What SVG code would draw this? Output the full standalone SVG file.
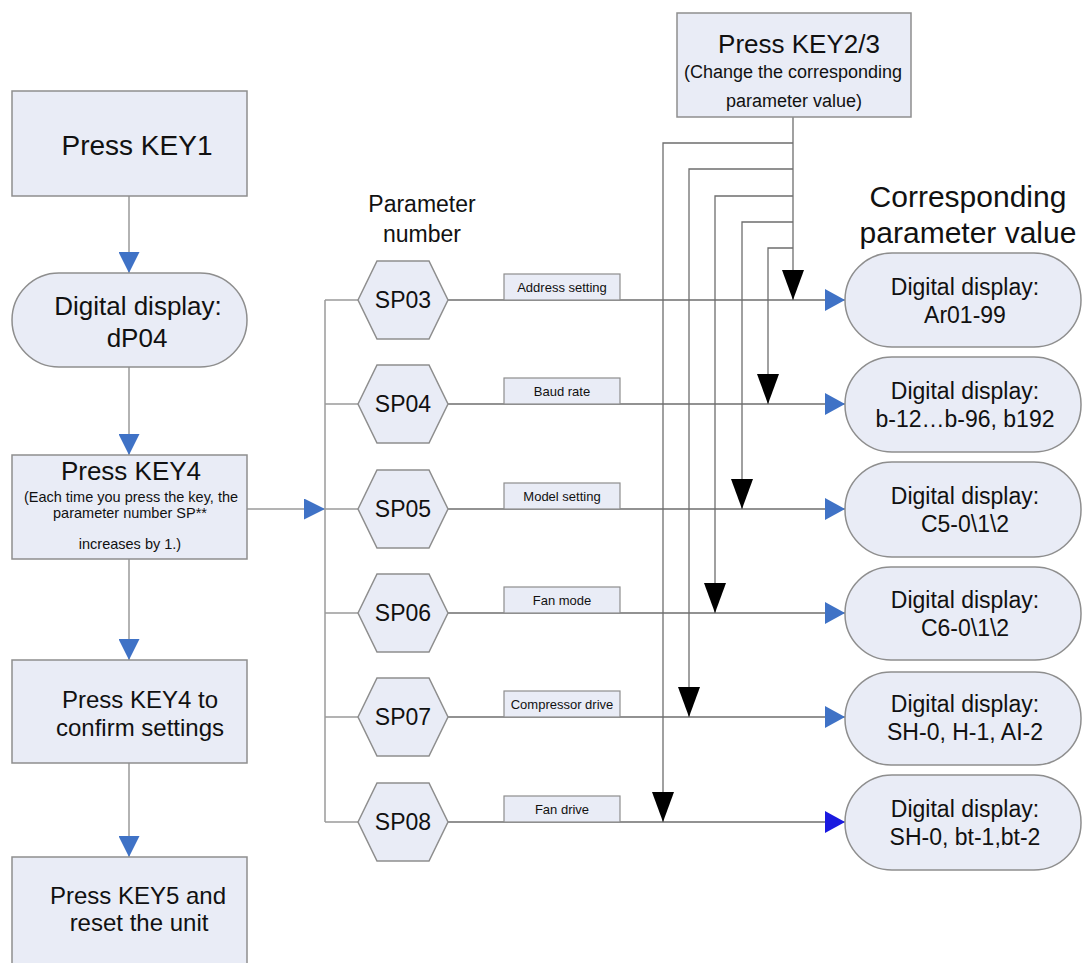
<svg xmlns="http://www.w3.org/2000/svg" width="1091" height="963" viewBox="0 0 1091 963">
<style>
.box{fill:#E9ECF6;stroke:#8E8E8E;stroke-width:1.5}
.lbl{fill:#E9ECF6;stroke:#8E8E8E;stroke-width:1.2}
.t{font-family:"Liberation Sans",Arial,sans-serif;fill:#111;text-anchor:middle}
.ln{fill:none;stroke:#9A9A9A;stroke-width:1.5}
.lr{fill:none;stroke:#6E6E6E;stroke-width:1.3}
</style>
<defs>
<marker id="blueV" markerUnits="userSpaceOnUse" markerWidth="21" markerHeight="21" refX="21" refY="10.5" orient="auto" viewBox="0 0 21 21"><path d="M0,0 L21,10.5 L0,21 z" fill="#3F72C6"/></marker>
<marker id="blueH" markerUnits="userSpaceOnUse" markerWidth="20" markerHeight="22" refX="20" refY="11" orient="auto" viewBox="0 0 20 22"><path d="M0,0 L20,11 L0,22 z" fill="#3F72C6"/></marker>
<marker id="blueH2" markerUnits="userSpaceOnUse" markerWidth="20" markerHeight="22" refX="20" refY="11" orient="auto" viewBox="0 0 20 22"><path d="M0,0 L20,11 L0,22 z" fill="#1A1AE0"/></marker>
<marker id="black" markerUnits="userSpaceOnUse" markerWidth="30" markerHeight="22" refX="30" refY="11" orient="auto" viewBox="0 0 30 22"><path d="M0,0 L30,11 L0,22 z" fill="#000"/></marker>
</defs>
<rect width="1091" height="963" fill="#fff"/>

<g id="connectors">
<line class="ln" x1="129" y1="196" x2="129" y2="273" marker-end="url(#blueV)"/>
<line class="ln" x1="129" y1="367" x2="129" y2="455" marker-end="url(#blueV)"/>
<line class="ln" x1="129" y1="559" x2="129" y2="660" marker-end="url(#blueV)"/>
<line class="ln" x1="129" y1="763" x2="129" y2="857" marker-end="url(#blueV)"/>
<line class="ln" x1="247" y1="509" x2="325" y2="509" marker-end="url(#blueV)"/>
<line class="ln" x1="325" y1="300" x2="325" y2="822"/>
<line class="ln" x1="325" y1="300" x2="359" y2="300"/>
<line class="ln" x1="325" y1="404" x2="359" y2="404"/>
<line class="ln" x1="325" y1="509" x2="359" y2="509"/>
<line class="ln" x1="325" y1="613" x2="359" y2="613"/>
<line class="ln" x1="325" y1="717" x2="359" y2="717"/>
<line class="ln" x1="325" y1="822" x2="359" y2="822"/>
<line class="lr" x1="448" y1="300" x2="845" y2="300" marker-end="url(#blueH)"/>
<line class="lr" x1="448" y1="404" x2="845" y2="404" marker-end="url(#blueH)"/>
<line class="lr" x1="448" y1="509" x2="845" y2="509" marker-end="url(#blueH)"/>
<line class="lr" x1="448" y1="613" x2="845" y2="613" marker-end="url(#blueH)"/>
<line class="lr" x1="448" y1="717" x2="845" y2="717" marker-end="url(#blueH)"/>
<line class="lr" x1="448" y1="822" x2="845" y2="822" marker-end="url(#blueH2)"/>
<line class="lr" x1="793" y1="117" x2="793" y2="300" marker-end="url(#black)"/>
<path class="lr" d="M793,143 H663 V822" marker-end="url(#black)"/>
<path class="lr" d="M793,169 H689 V717" marker-end="url(#black)"/>
<path class="lr" d="M793,196 H715 V613" marker-end="url(#black)"/>
<path class="lr" d="M793,222 H742 V509" marker-end="url(#black)"/>
<path class="lr" d="M793,248 H768 V404" marker-end="url(#black)"/>
</g>

<g id="key1"><rect class="box" x="12" y="91" width="235" height="105"/><text class="t" x="137" y="155" font-size="28">Press KEY1</text></g>
<g id="dp04"><rect class="box" x="12" y="273" width="235" height="94" rx="47"/><text class="t" x="138" y="315" font-size="26">Digital display:</text><text class="t" x="137" y="347" font-size="26">dP04</text></g>
<g id="key4"><rect class="box" x="12" y="455" width="235" height="104"/><text class="t" x="131" y="480" font-size="26">Press KEY4</text>
<text class="t" x="131" y="502" font-size="14.5">(Each time you press the key, the</text>
<text class="t" x="130" y="518" font-size="14.5">parameter number SP**</text>
<text class="t" x="130" y="549" font-size="14.5">increases by 1.)</text></g>
<g id="confirm"><rect class="box" x="12" y="660" width="235" height="103"/><text class="t" x="140" y="708" font-size="24">Press KEY4 to</text><text class="t" x="140" y="736" font-size="24">confirm settings</text></g>
<g id="key5"><rect class="box" x="12" y="857" width="235" height="130"/><text class="t" x="138" y="904" font-size="24">Press KEY5 and</text><text class="t" x="139" y="931" font-size="24">reset the unit</text></g>

<g id="key23"><rect class="box" x="677" y="13" width="234" height="104"/><text class="t" x="799" y="53" font-size="26">Press KEY2/3</text>
<text class="t" x="793" y="78" font-size="18">(Change the corresponding</text>
<text class="t" x="794" y="107" font-size="18">parameter value)</text></g>

<g id="hdr-param"><text class="t" x="422" y="212" font-size="23">Parameter</text><text class="t" x="422" y="242" font-size="23">number</text></g>
<g id="hdr-value"><text class="t" x="968" y="207" font-size="30">Corresponding</text><text class="t" x="968" y="243" font-size="30">parameter value</text></g>

<g id="sp03"><polygon class="box" points="358,300 377,261 429,261 448,300 429,339 377,339"/><text class="t" x="403" y="308" font-size="23">SP03</text></g>
<g id="sp04"><polygon class="box" points="358,404 377,365 429,365 448,404 429,443 377,443"/><text class="t" x="403" y="412" font-size="23">SP04</text></g>
<g id="sp05"><polygon class="box" points="358,509 377,470 429,470 448,509 429,548 377,548"/><text class="t" x="403" y="517" font-size="23">SP05</text></g>
<g id="sp06"><polygon class="box" points="358,613 377,574 429,574 448,613 429,652 377,652"/><text class="t" x="403" y="621" font-size="23">SP06</text></g>
<g id="sp07"><polygon class="box" points="358,717 377,678 429,678 448,717 429,756 377,756"/><text class="t" x="403" y="725" font-size="23">SP07</text></g>
<g id="sp08"><polygon class="box" points="358,822 377,783 429,783 448,822 429,861 377,861"/><text class="t" x="403" y="830" font-size="23">SP08</text></g>

<g id="lbl03"><rect class="lbl" x="504" y="274" width="116" height="26"/><text class="t" x="562" y="292" font-size="13">Address setting</text></g>
<g id="lbl04"><rect class="lbl" x="504" y="378" width="116" height="26"/><text class="t" x="562" y="396" font-size="13">Baud rate</text></g>
<g id="lbl05"><rect class="lbl" x="504" y="483" width="116" height="26"/><text class="t" x="562" y="501" font-size="13">Model setting</text></g>
<g id="lbl06"><rect class="lbl" x="504" y="587" width="116" height="26"/><text class="t" x="562" y="605" font-size="13">Fan mode</text></g>
<g id="lbl07"><rect class="lbl" x="504" y="691" width="116" height="26"/><text class="t" x="562" y="709" font-size="13">Compressor drive</text></g>
<g id="lbl08"><rect class="lbl" x="504" y="796" width="116" height="26"/><text class="t" x="562" y="814" font-size="13">Fan drive</text></g>

<g id="val03"><rect class="box" x="845" y="253" width="236" height="94" rx="47"/><text class="t" x="965" y="295" font-size="23">Digital display:</text><text class="t" x="965" y="323" font-size="23">Ar01-99</text></g>
<g id="val04"><rect class="box" x="845" y="357" width="236" height="95" rx="47"/><text class="t" x="965" y="399" font-size="23">Digital display:</text><text class="t" x="965" y="427" font-size="23">b-12…b-96, b192</text></g>
<g id="val05"><rect class="box" x="845" y="462" width="236" height="95" rx="47"/><text class="t" x="965" y="504" font-size="23">Digital display:</text><text class="t" x="965" y="532" font-size="23">C5-0\1\2</text></g>
<g id="val06"><rect class="box" x="845" y="567" width="236" height="93" rx="46"/><text class="t" x="965" y="608" font-size="23">Digital display:</text><text class="t" x="965" y="636" font-size="23">C6-0\1\2</text></g>
<g id="val07"><rect class="box" x="845" y="672" width="236" height="93" rx="46"/><text class="t" x="965" y="712" font-size="23">Digital display:</text><text class="t" x="965" y="740" font-size="23">SH-0, H-1, AI-2</text></g>
<g id="val08"><rect class="box" x="845" y="775" width="236" height="95" rx="47"/><text class="t" x="965" y="817" font-size="23">Digital display:</text><text class="t" x="965" y="845" font-size="23">SH-0, bt-1,bt-2</text></g>
</svg>
